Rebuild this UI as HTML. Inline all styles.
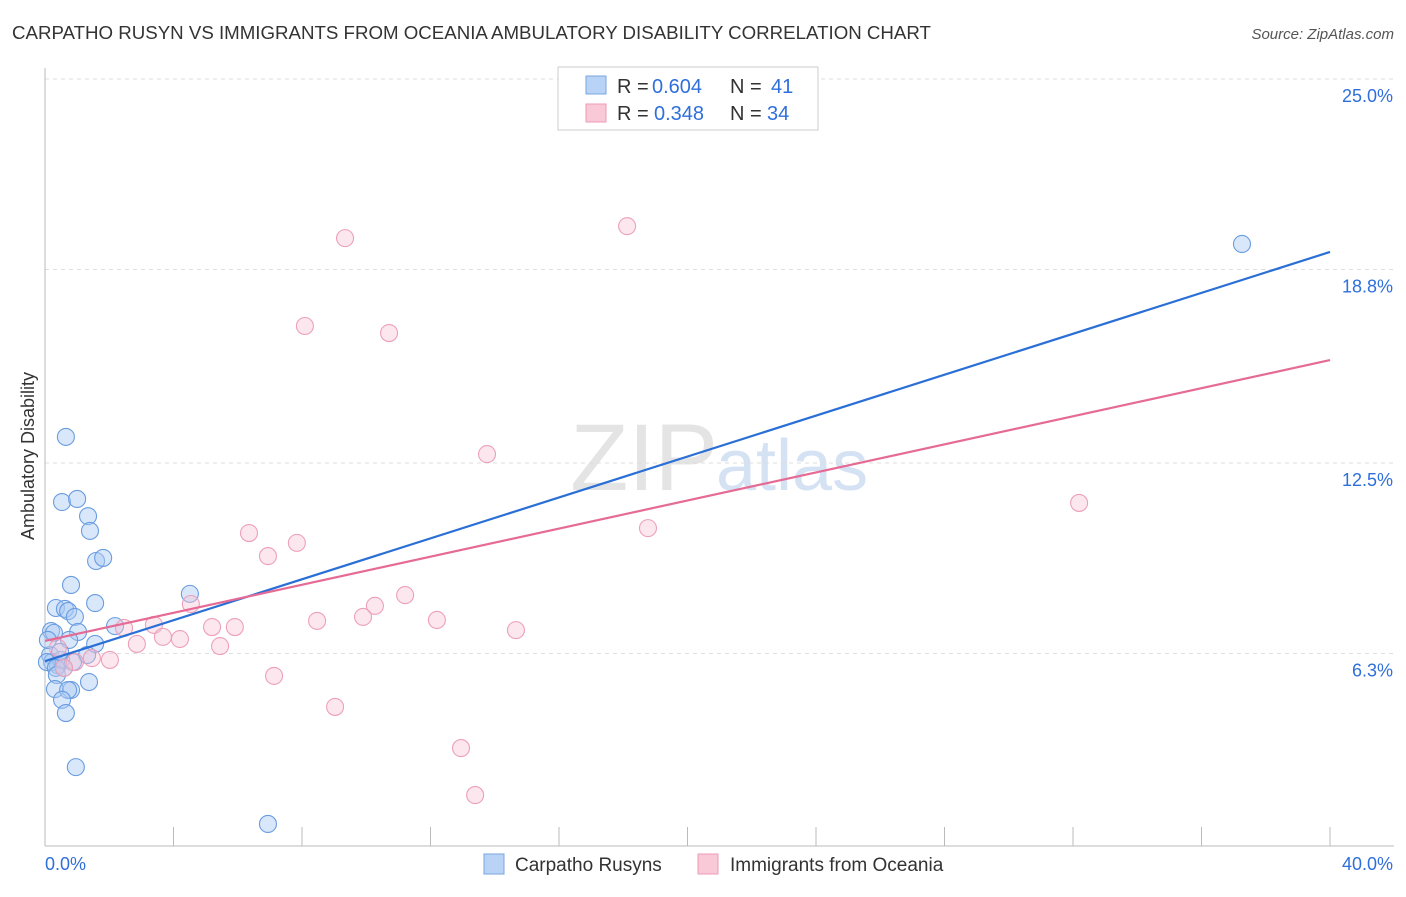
<!DOCTYPE html>
<html><head><meta charset="utf-8"><style>
body{margin:0;background:#fff;font-family:"Liberation Sans",sans-serif}
svg text{font-family:"Liberation Sans",sans-serif}
</style></head><body>
<svg id="c" width="1406" height="892">
<text x="12" y="39" font-size="18.7" fill="#333">CARPATHO RUSYN VS IMMIGRANTS FROM OCEANIA AMBULATORY DISABILITY CORRELATION CHART</text>
<text x="1394" y="39" font-size="15" fill="#555" font-style="italic" text-anchor="end">Source: ZipAtlas.com</text>
<text x="34" y="456" font-size="18" fill="#333" transform="rotate(-90 34 456)" text-anchor="middle">Ambulatory Disability</text>
<text x="718" y="490" font-size="95" fill="#e4e4e4" font-family="Liberation Serif" text-anchor="end">ZIP</text>
<text x="716" y="490" font-size="72" fill="#d4e2f4">atlas</text>
<g id="grid"></g><g id="axes"></g><g id="pts"></g><g id="lines"></g>
<g>
<rect x="558" y="67" width="260" height="63" fill="#fff" stroke="#ccc"/>
<rect x="586" y="76" width="20" height="18" fill="#b8d3f5" stroke="#7aa6e0"/>
<rect x="586" y="104" width="20" height="18" fill="#f9c9d8" stroke="#ee9ab6"/>
<text x="617" y="93" font-size="20" fill="#333">R =</text>
<text x="652" y="93" font-size="20" fill="#2f6fdb">0.604</text>
<text x="730" y="93" font-size="20" fill="#333">N =</text>
<text x="771" y="93" font-size="20" fill="#2f6fdb">41</text>
<text x="617" y="120" font-size="20" fill="#333">R =</text>
<text x="654" y="120" font-size="20" fill="#2f6fdb">0.348</text>
<text x="730" y="120" font-size="20" fill="#333">N =</text>
<text x="767" y="120" font-size="20" fill="#2f6fdb">34</text>
</g>
<g>
<rect x="484" y="854" width="20" height="20" fill="#b8d3f5" stroke="#7aa6e0"/>
<text x="515" y="871" font-size="19" fill="#333">Carpatho Rusyns</text>
<rect x="698" y="854" width="20" height="20" fill="#f9c9d8" stroke="#ee9ab6"/>
<text x="730" y="871" font-size="19" fill="#333">Immigrants from Oceania</text>
</g>
</svg>
<script>
const yTicks=[6.3,12.5,18.8,25.0];
const yTickLabels=["6.3%","12.5%","18.8%","25.0%"];
const xTicks=[0,4,8,12,16,20,24,28,32,36,40];
const blueX=[.65,.53,1.00,1.34,1.40,1.59,1.81,.81,.34,.62,.72,1.56,.93,2.18,.19,.28,1.03,.75,1.56,1.31,.16,.22,.40,.50,.06,.34,.87,.37,1.37,.31,.81,.72,.53,.65,.96,4.51,6.94,37.26,.09,.47,.59];
const blueY=[13.35,11.23,11.33,10.77,10.29,9.31,9.41,8.53,7.78,7.75,7.68,7.94,7.49,7.19,7.03,6.97,7.00,6.74,6.61,6.25,6.25,6.02,5.92,6.09,6.02,5.83,6.02,5.60,5.37,5.14,5.11,5.11,4.79,4.36,2.60,8.24,0.75,19.63,6.74,6.35,5.83];
const pinkX=[18.12,9.34,8.09,10.71,13.76,32.19,18.77,6.35,6.94,7.84,11.21,4.54,10.27,8.47,9.90,12.20,14.66,3.39,2.46,5.20,5.91,3.67,4.20,2.86,5.45,2.02,1.46,.93,.40,.59,7.13,9.03,12.95,13.39];
const pinkY=[20.21,19.82,16.96,16.73,12.79,11.20,10.38,10.22,9.47,9.90,8.20,7.91,7.85,7.36,7.49,7.39,7.06,7.23,7.13,7.16,7.16,6.84,6.77,6.61,6.54,6.09,6.15,6.02,6.48,5.83,5.57,4.56,3.22,1.69];
const blueTrend=[6.05,19.37];
const pinkTrend=[6.71,15.85];
const sx=v=>45+v/40*1285, sy=v=>847-v/25*768;
const NS="http://www.w3.org/2000/svg";
function mk(t,a,p){const e=document.createElementNS(NS,t);for(const k in a)e.setAttribute(k,a[k]);p.appendChild(e);return e;}
const grid=document.getElementById('grid'),axes=document.getElementById('axes'),pts=document.getElementById('pts'),lines=document.getElementById('lines');
yTicks.forEach((t,i)=>{
 const l=mk('line',{x1:45,x2:1394,y1:sy(t),y2:sy(t),stroke:'#ddd','stroke-dasharray':'4 4'},grid);
 
 
 const tx=mk('text',{x:1393,y:sy(t)+23,'font-size':18,fill:'#2f6fdb','text-anchor':'end'},grid);
 tx.textContent=yTickLabels[i];
 
 
});
const ya=mk('line',{x1:45,x2:45,y1:68,y2:846,stroke:'#bbb'},axes);


const xa=mk('line',{x1:45,x2:1394,y1:846,y2:846,stroke:'#bbb'},axes);


xTicks.forEach(t=>{
 const k=mk('line',{x1:sx(t),x2:sx(t),y1:827,y2:846,stroke:'#bbb'},axes);
 
 
});
[[0,"0.0%","start",45],[40,"40.0%","end",1393]].forEach(d=>{
 const tx=mk('text',{x:d[3],y:870,'font-size':18,fill:'#2f6fdb','text-anchor':d[2]},axes);
 tx.textContent=d[1];
 
 
});
blueX.forEach((x,i)=>{
 const c=mk('circle',{cx:sx(x),cy:sy(blueY[i]),r:8.5,fill:'rgba(170,202,244,0.45)',stroke:'#6a9de0','stroke-width':1.1},pts);
 
 
});
pinkX.forEach((x,i)=>{
 const c=mk('circle',{cx:sx(x),cy:sy(pinkY[i]),r:8.5,fill:'rgba(248,196,212,0.4)',stroke:'#eda0b9','stroke-width':1.1},pts);
 
 
});
const bl=mk('line',{x1:sx(0),y1:sy(blueTrend[0]),x2:sx(40),y2:sy(blueTrend[1]),stroke:'#2a6fd6','stroke-width':2.2},lines);


const pl=mk('line',{x1:sx(0),y1:sy(pinkTrend[0]),x2:sx(40),y2:sy(pinkTrend[1]),stroke:'#e56b95','stroke-width':2.2},lines);


</script>
</body></html>
